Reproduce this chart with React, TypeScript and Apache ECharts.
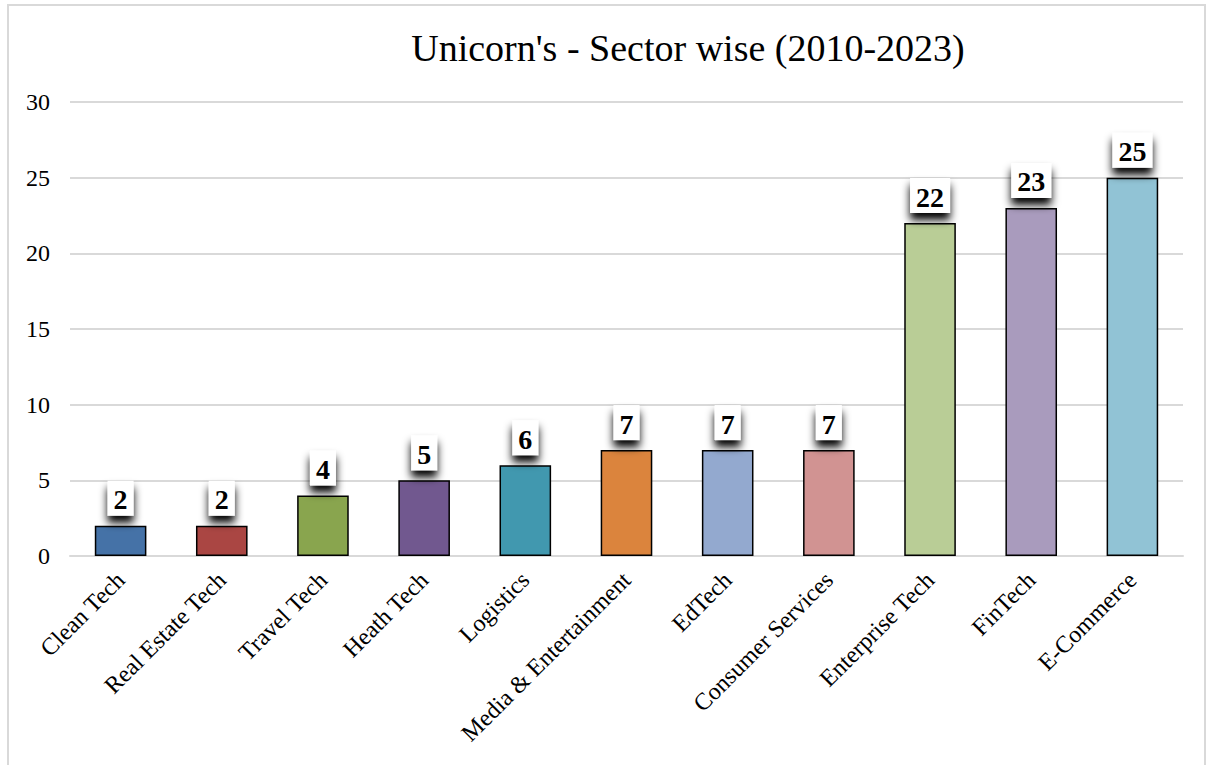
import React, { useEffect, useRef } from "react";
import * as echarts from "echarts";

const categories = [
  "Clean Tech",
  "Real Estate Tech",
  "Travel Tech",
  "Heath Tech",
  "Logistics",
  "Media & Entertainment",
  "EdTech",
  "Consumer Services",
  "Enterprise Tech",
  "FinTech",
  "E-Commerce",
];
const values = [2, 2, 4, 5, 6, 7, 7, 7, 22, 23, 25];
const colors = [
  "#4572A7",
  "#AA4643",
  "#89A54E",
  "#71588F",
  "#4198AF",
  "#DB843D",
  "#93A9CF",
  "#D19392",
  "#B9CD96",
  "#A99BBD",
  "#91C3D5",
];
const title = "Unicorn's - Sector wise (2010-2023)";

const FONT = '"Liberation Serif", "Times New Roman", serif';

export default function App() {
  const ref = useRef<HTMLDivElement>(null);
  useEffect(() => {
    document.body.style.margin = "0";
    const chart = echarts.init(ref.current!, null, { renderer: "svg" });
    chart.setOption({
      animation: false,
      backgroundColor: "#ffffff",
      title: {
        text: title,
        left: 683,
        top: 24,
        textAlign: "center",
        textStyle: {
          fontFamily: FONT,
          fontSize: 38,
          fontWeight: "normal",
          color: "#000",
        },
      },
      graphic: [
        {
          type: "rect",
          shape: { x: 8, y: 5, width: 1197, height: 800 },
          style: { fill: "none", stroke: "#d9d9d9", lineWidth: 2 },
          silent: true,
        },
      ],
      grid: { left: 70, right: 23, top: 102, bottom: 209 },
      xAxis: {
        type: "category",
        data: categories,
        axisLine: { show: true, lineStyle: { color: "#d9d9d9", width: 2 } },
        axisTick: { show: false },
        axisLabel: {
          rotate: 45,
          interval: 0,
          margin: 20,
          fontFamily: FONT,
          fontSize: 24,
          color: "#000",
        },
      },
      yAxis: {
        type: "value",
        min: 0,
        max: 30,
        interval: 5,
        axisLine: { show: false },
        axisTick: { show: false },
        splitLine: { lineStyle: { color: "#d9d9d9", width: 2 } },
        axisLabel: {
          margin: 20,
          fontFamily: FONT,
          fontSize: 24,
          color: "#000",
        },
      },
      series: [
        {
          type: "bar",
          data: values.map((v, i) => ({
            value: v,
            itemStyle: { color: colors[i] },
          })),
          barWidth: "51%",
          itemStyle: { borderColor: "#000", borderWidth: 1.5 },
          label: {
            show: true,
            position: "top",
            distance: 10,
            fontFamily: FONT,
            fontSize: 28,
            fontWeight: "bold",
            color: "#000",
            backgroundColor: "#fff",
            padding: [5, 6, 2, 6],
            shadowColor: "rgba(0,0,0,1)",
            shadowBlur: 8,
            shadowOffsetY: 7,
          },
        },
      ],
    });
    return () => chart.dispose();
  }, []);
  return <div ref={ref} style={{ width: 1206, height: 765 }} />;
}
